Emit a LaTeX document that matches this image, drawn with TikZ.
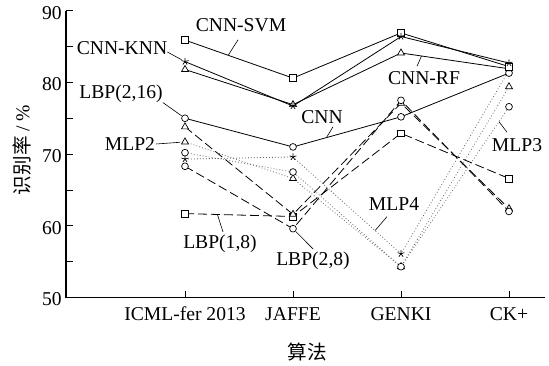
\documentclass[tikz,border=0pt]{standalone}
\usepackage{fontspec}
\setmainfont{Liberation Serif}
\newfontfamily\cjk{Noto Sans CJK SC}
\usetikzlibrary{plotmarks,calc}

\tikzset{
  txt/.style={font=\fontsize{19.6}{22}\selectfont, inner sep=0pt},
  lead/.style={line width=0.6pt},
  cnnline/.style={line width=0.8pt},
  lbpline/.style={line width=0.8pt, dash pattern=on 9pt off 4pt},
  mlpline/.style={line width=0.8pt, black!60, dash pattern=on 0.8pt off 2.2pt},
  mk/.style={solid, draw=black, fill=white, line width=0.7pt},
}

\begin{document}
\begin{tikzpicture}[x=1pt,y=1pt]
\useasboundingbox (0,0) rectangle (549,365);

\begin{scope}[shift={(77pt,-291pt)},x=108pt,y=7.17pt]
% data points
\foreach \s/\a/\b/\c/\d in {svm/85.9/80.6/86.9/82.2, knn/82.9/76.7/86.4/82.7,
    rf/81.8/76.9/84.1/81.9, cnn/75.0/71.0/75.2/81.3,
    lbpa/61.7/61.3/72.9/66.6, lbpb/73.8/61.6/77.1/62.4, lbpc/68.3/59.6/77.5/62.0,
    mlpa/71.7/66.6/54.3/79.4, mlpb/70.2/67.5/54.3/76.6, mlpc/69.3/69.6/56.1/81.7}
{
  \coordinate (\s1) at (1,\a);
  \coordinate (\s2) at (2,\b);
  \coordinate (\s3) at (3,\c);
  \coordinate (\s4) at (4,\d);
}

% axes
\draw[line width=1.2pt] (-0.102,90) -- (-0.102,50) -- (4.33,50);
\foreach \v in {55,60,...,90}
  \draw[line width=0.8pt] (-0.102,\v) -- ++(7pt,0);
\foreach \v in {50,60,...,90}
  \node[txt,anchor=east] (ylab\v) at ([xshift=-4pt,yshift=-2pt]-0.102,\v) {\v};
\foreach \c/\t in {1/ICML-fer 2013,2/JAFFE,3/GENKI,4/CK+}
{
  \draw[line width=0.8pt] (\c,50) -- ++(0,7pt);
  \node[txt,anchor=base] (cat\c) at ([yshift=-23pt]\c,50) {\t};
}

% MLP
\draw[mlpline] plot[mark=triangle*, mark size=4pt, mark options={mk}]
  coordinates {(mlpa1) (mlpa2) (mlpa3) (mlpa4)};
\draw[mlpline] plot[mark=*, mark size=3.4pt, mark options={mk}]
  coordinates {(mlpb1) (mlpb2) (mlpb3) (mlpb4)};
\draw[mlpline] plot[mark=star, mark size=3.6pt, mark options={mk}]
  coordinates {(mlpc1) (mlpc2) (mlpc3) (mlpc4)};
% LBP
\draw[lbpline] plot[mark=square*, mark size=3.4pt, mark options={mk}]
  coordinates {(lbpa1) (lbpa2) (lbpa3) (lbpa4)};
\draw[lbpline] plot[mark=triangle*, mark size=4pt, mark options={mk}]
  coordinates {(lbpb1) (lbpb2) (lbpb3) (lbpb4)};
\draw[lbpline] plot[mark=*, mark size=3.4pt, mark options={mk}]
  coordinates {(lbpc1) (lbpc2) (lbpc3) (lbpc4)};
% CNN
\draw[cnnline] plot[mark=*, mark size=3.4pt, mark options={mk}]
  coordinates {(cnn1) (cnn2) (cnn3) (cnn4)};
\draw[cnnline] plot[mark=triangle*, mark size=4pt, mark options={mk}]
  coordinates {(rf1) (rf2) (rf3) (rf4)};
\draw[cnnline] plot[mark=square*, mark size=3.4pt, mark options={mk}]
  coordinates {(svm1) (svm2) (svm3) (svm4)};
\draw[cnnline] plot[mark=star, mark size=3.6pt, mark options={mk}]
  coordinates {(knn1) (knn2) (knn3) (knn4)};
\end{scope}

% axis titles
\node[txt,rotate=90] (ytitle) at (22,215) {{\cjk 识别率} / \%};
\node[txt] (xtitle) at (307,13) {\cjk 算法};

% labels
\node[txt] (svmlbl) at (241,340) {CNN-SVM};
\node[txt] (knnlbl) at (122,317) {CNN-KNN};
\node[txt] (lbpblbl) at (121,271.5) {LBP(2,16)};
\node[txt] (mlpalbl) at (130,221) {MLP2};
\node[txt] (rflbl) at (424,287) {CNN-RF};
\node[txt] (cnnlbl) at (322,248) {CNN};
\node[txt] (lbpalbl) at (220,121) {LBP(1,8)};
\node[txt] (lbpclbl) at (313,104) {LBP(2,8)};
\node[txt] (mlpclbl) at (394,161) {MLP4};
\node[txt] (mlpblbl) at (517,220) {MLP3};

% leaders
\draw[lead] ([xshift=-3pt,yshift=-8pt]svmlbl.south) -- ($(svm1)!.4!(svm2)$);
\draw[lead,shorten >=4pt] ([yshift=-4pt]knnlbl.east) -- (knn1);
\draw[lead,shorten >=4pt] ([yshift=-9pt]lbpblbl.east) -- (cnn1);
\draw[lead,shorten >=5pt] ([xshift=1pt]mlpalbl.east) -- (mlpa1);
\draw[lead] ([xshift=-7pt,yshift=5pt]rflbl.north) -- ($(rf3)!.19!(rf4)$);
\draw[lead] ([xshift=11pt,yshift=-3pt]cnnlbl.south) -- ($(cnn2)!.31!(cnn3)$);
\draw[lead] ([xshift=3pt,yshift=3pt]lbpalbl.north) -- ($(lbpa1)!.3!(lbpa2)$);
\draw[lead,shorten >=4pt] ([yshift=3pt]lbpclbl.north) -- (lbpc2);
\draw[lead] ([xshift=-7pt,yshift=-6pt]mlpclbl.south) -- ($(mlpc2)!.76!(mlpc3)$);
\draw[lead] ([xshift=-10pt,yshift=6pt]mlpblbl.north) -- ($(mlpb3)!.907!(mlpb4)$);
\end{tikzpicture}
\end{document}
